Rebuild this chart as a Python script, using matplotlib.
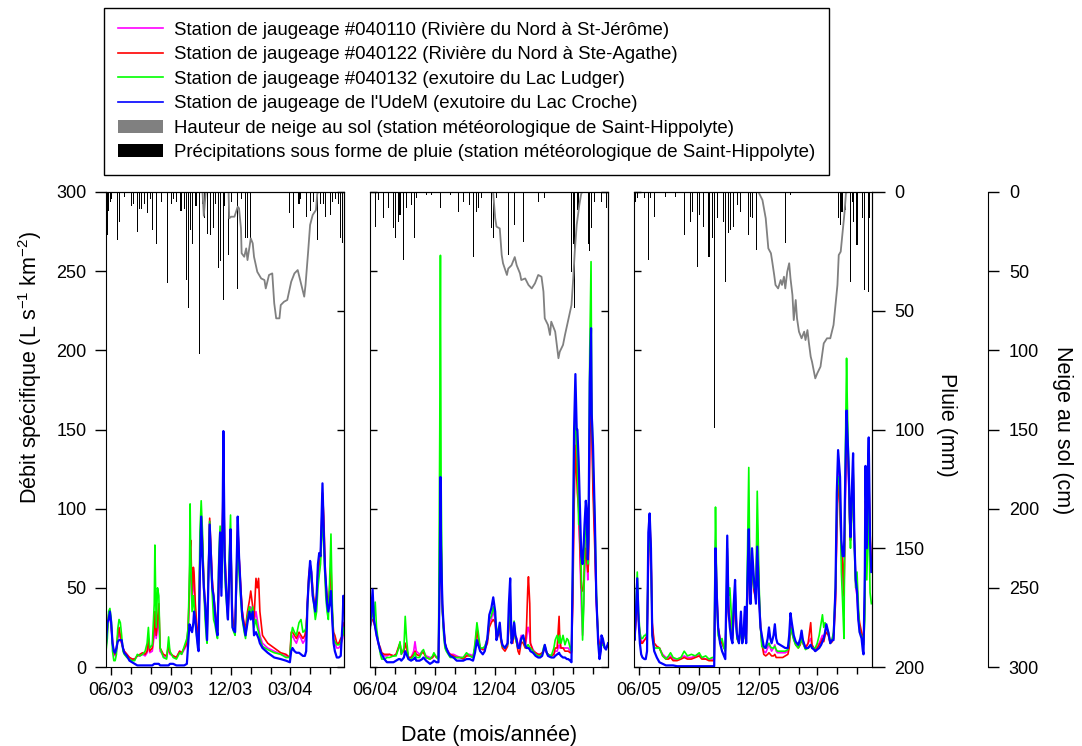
import pandas as pd
import matplotlib
matplotlib.use("Agg")
from matplotlib import pyplot as plt
import matplotlib.dates as mdates
from matplotlib.lines import Line2D
from matplotlib.patches import Patch

plt.rcParams['font.family'] = ['Liberation Sans', 'DejaVu Sans']
plt.rcParams['mathtext.default'] = 'regular'

#start of each hydrological year (day 0 = 1st of June)
bases = ["2003-06-01", "2004-06-01", "2005-06-01"]

#discharge, panel 1 (L/s/km2)
p1_day = [-8,-6,-4,-2,0,2,4,6,8,10,
          12,14,16,18,20,24,28,32,36,40,
          44,48,52,55,57,59,63,66,67,69,
          71,73,75,80,85,88,90,95,100,105,
          108,112,116,118,120,121,122,124,126,127,
          129,131,133,134,136,138,140,142,144,146,
          147,149,151,153,155,157,159,161,163,165,
          167,169,171,172,174,176,178,179,181,183,
          185,186,188,190,192,194,196,199,201,204,
          206,209,212,214,217,219,222,224,226,228,
          232,240,250,260,268,274,276,278,281,284,
          288,291,294,297,299,301,303,305,307,309,
          311,313,315,317,319,321,323,324,326,328,
          329,331,333,335,337,339,341,343,346,349,
          352,355,356,357]
p1_magenta = [12,22,30,32,25,15,8,7,10,18,
              22,18,15,12,10,8,6,5,5,7,
              7,8,7,9,15,9,10,20,28,18,
              25,30,10,7,6,12,8,7,6,10,
              8,11,14,22,45,80,70,45,55,50,
              35,25,18,15,60,95,75,50,35,25,
              20,55,92,70,50,40,35,25,20,50,
              80,55,90,130,70,50,40,32,50,85,
              45,30,25,23,50,90,70,45,35,25,
              22,30,35,38,35,28,35,30,25,20,
              15,12,10,8,7,6,18,20,17,15,
              20,18,15,17,22,40,55,62,55,45,
              40,35,40,55,60,70,90,105,80,60,
              50,40,38,45,60,30,18,15,12,12,
              14,18,22,22]
p1_red = [14,25,33,35,27,16,9,8,12,20,
          25,20,15,12,10,8,6,5,5,7,
          8,9,8,10,18,10,12,25,35,20,
          30,40,12,8,7,14,9,7,6,10,
          9,12,15,25,50,75,80,45,63,60,
          40,28,20,17,70,95,80,55,40,28,
          22,60,94,75,55,45,38,30,23,55,
          82,60,100,127,75,55,42,35,55,85,
          50,32,26,25,55,90,70,48,35,27,
          25,35,42,48,38,30,56,50,56,35,
          20,15,12,9,8,6,22,22,20,18,
          22,20,18,20,25,42,58,65,60,50,
          42,38,45,60,65,70,95,110,95,65,
          55,45,40,50,65,35,22,20,15,15,
          18,20,25,28]
p1_green = [10,18,35,37,30,10,4,4,8,24,
            30,28,20,10,8,6,5,4,4,8,
            7,8,10,15,25,12,14,40,77,25,
            50,45,12,6,5,19,10,6,5,9,
            8,13,18,25,60,103,70,35,45,40,
            28,20,13,12,85,105,85,50,30,18,
            15,60,92,65,45,30,27,22,18,70,
            89,50,85,120,60,45,35,30,70,96,
            40,25,22,20,50,80,60,40,30,22,
            18,32,38,32,38,25,30,25,22,18,
            13,11,9,8,6,6,20,25,22,20,
            28,30,22,23,25,38,55,60,55,48,
            38,30,35,50,58,65,85,100,75,55,
            45,35,30,55,84,40,17,16,14,14,
            15,20,22,25]
p1_blue = [15,28,30,35,28,15,10,9,12,16,
           17,17,17,12,9,7,4,3,2,1,
           1,1,1,1,1,1,1,2,2,2,
           2,2,1,1,1,1,2,2,1,1,
           1,1,2,15,27,26,24,22,28,35,
           30,20,12,10,60,95,70,50,40,25,
           17,55,90,70,50,45,35,25,20,60,
           85,45,100,149,70,50,35,30,60,87,
           40,25,23,22,60,95,70,45,32,25,
           20,28,35,30,35,20,22,20,18,15,
           12,9,6,5,4,3,10,12,10,9,
           9,8,7,7,10,40,55,67,60,45,
           40,35,45,65,72,70,100,116,85,60,
           55,40,35,40,48,30,15,10,6,6,
           7,30,45,40]

#discharge, panel 2
p2_day = [-9,-8,-6,-4,-2,0,2,5,8,10,
          14,18,22,28,32,36,38,40,44,46,
          48,51,55,59,61,63,68,72,74,78,
          84,88,90,94,97,99,100,101,103,105,
          107,109,112,115,120,125,130,135,140,145,
          150,153,156,158,161,165,168,172,175,178,
          181,184,186,188,191,193,195,199,203,205,
          207,209,211,213,215,217,219,221,224,227,
          230,232,234,235,237,238,242,246,250,253,
          256,258,260,263,265,270,274,276,279,282,
          283,285,288,291,294,296,299,301,303,305,
          307,309,310,312,314,316,318,320,321,323,
          324,326,327,329,331,332,334,337,339,342,
          344,346,347,349,352,354,357]
p2_magenta = [20,25,28,30,30,25,20,14,10,8,
              7,7,8,7,8,12,15,8,10,15,
              12,6,6,10,16,10,8,10,10,7,
              6,6,8,6,6,70,115,80,40,25,
              15,12,10,8,8,7,6,6,8,8,
              7,12,25,18,12,11,12,18,28,30,
              35,30,20,22,25,18,14,12,15,30,
              45,20,22,28,20,18,12,15,20,18,
              14,18,25,25,20,15,11,9,8,8,
              9,10,12,9,8,7,8,10,10,14,
              12,12,12,12,12,12,10,10,50,120,
              150,130,130,100,70,40,20,45,60,80,
              75,55,70,150,190,160,120,80,40,20,
              14,14,15,15,12,12,14]
p2_red = [22,25,30,30,28,25,22,15,12,9,
          8,8,8,7,8,13,15,9,10,15,
          12,6,6,8,10,8,7,9,9,6,
          5,6,8,6,6,60,110,80,35,25,
          15,12,9,8,7,6,6,5,7,7,
          6,12,24,18,12,11,11,15,25,28,
          30,28,18,20,22,16,12,10,13,25,
          40,18,15,25,18,15,10,8,16,15,
          12,25,50,57,40,15,10,9,8,8,
          9,10,12,9,8,7,8,12,12,32,
          18,12,12,10,10,10,9,9,40,100,
          140,120,110,100,75,50,48,55,65,75,
          70,60,65,140,180,150,110,70,45,18,
          14,15,16,15,12,12,14]
p2_green = [22,25,30,35,30,41,25,15,8,5,
            5,6,6,7,7,12,16,8,12,32,
            18,5,5,7,9,6,6,10,11,6,
            5,7,9,6,5,150,260,120,35,20,
            12,10,8,6,6,6,6,6,9,7,
            6,15,28,22,12,12,13,18,30,32,
            38,32,25,22,24,18,13,12,14,28,
            42,18,20,29,18,15,12,12,18,18,
            13,12,14,14,12,12,10,8,7,7,
            8,12,14,9,8,7,12,17,20,15,
            20,15,20,14,18,17,12,10,60,130,
            170,140,130,90,90,60,17,40,70,100,
            90,65,80,200,256,170,130,90,50,15,
            12,12,14,14,12,12,14]
p2_blue = [22,24,35,49,30,25,20,15,10,8,
           5,3,3,3,4,5,5,4,6,10,
           8,5,4,5,6,4,4,5,6,4,
           2,3,4,3,3,60,120,75,40,25,
           15,12,9,7,6,4,4,4,5,5,
           4,9,17,14,10,8,10,18,33,37,
           44,35,17,20,28,18,14,12,15,40,
           56,15,18,28,20,17,12,12,18,20,
           14,12,12,12,11,10,9,7,6,6,
           7,10,14,9,7,6,6,7,8,9,
           8,7,6,6,5,5,4,3,70,150,
           185,150,150,130,100,70,65,80,90,105,
           100,68,80,180,214,160,140,90,45,15,
           5,10,20,18,12,11,15]

#discharge, panel 3
p3_day = [-9,-7,-5,-3,-1,1,3,5,8,10,
          12,14,16,18,20,23,27,31,36,41,
          45,48,52,58,64,69,74,80,86,92,
          96,102,107,112,115,116,117,119,121,124,
          127,130,132,134,135,137,139,141,143,145,
          147,149,150,153,156,158,160,162,164,166,
          168,170,171,173,176,179,181,184,186,188,
          191,194,197,199,201,203,206,208,210,212,
          216,220,224,228,230,232,234,237,240,244,
          247,249,251,255,259,263,265,268,270,273,
          276,279,281,283,285,287,290,293,296,298,
          301,303,305,307,308,310,312,314,316,318,
          319,321,323,324,326,328,330,332,334,336,
          338,341,343,344,346,347,349,351,352,354,
          356]
p3_magenta = [20,18,30,45,30,20,15,16,17,18,
              20,60,90,70,25,15,13,12,8,6,
              6,7,5,5,6,7,6,6,7,8,
              6,5,5,5,5,40,80,50,25,18,
              15,12,12,40,75,40,30,25,20,35,
              50,30,20,16,30,17,20,35,18,50,
              80,60,45,70,50,45,90,45,28,18,
              10,9,12,15,12,10,12,14,10,9,
              9,9,9,10,15,28,25,18,15,13,
              15,20,17,12,15,18,13,12,11,14,
              15,18,20,18,22,25,22,16,18,20,
              45,90,125,110,100,70,60,40,100,150,
              140,120,90,80,100,125,80,50,45,30,
              25,20,15,15,40,100,70,110,120,80,
              60]
p3_red = [20,17,30,45,30,20,15,15,17,18,
          20,70,95,75,28,15,13,12,7,5,
          5,6,4,4,5,6,5,5,6,7,
          5,5,4,4,4,35,70,45,25,17,
          15,12,11,35,70,38,28,22,18,30,
          45,28,18,15,28,16,18,32,16,45,
          85,55,40,65,48,42,85,42,25,15,
          8,7,8,9,8,7,7,8,6,6,
          6,6,7,8,12,25,22,18,14,12,
          14,18,15,12,15,28,14,12,10,12,
          14,16,18,16,20,22,20,15,16,18,
          40,85,115,110,100,75,65,45,110,155,
          145,125,90,80,100,125,80,55,50,35,
          28,22,18,17,45,105,75,115,125,85,
          65]
p3_green = [20,18,40,60,35,22,18,18,20,20,
            22,70,90,70,20,12,12,12,7,5,
            7,9,6,5,6,10,7,8,7,9,
            6,7,5,6,6,60,101,45,20,16,
            18,12,10,45,75,45,50,35,20,40,
            48,25,18,15,25,15,18,30,15,70,
            126,50,40,65,50,50,111,50,25,13,
            12,12,14,15,13,12,12,13,11,10,
            10,10,10,11,15,25,22,17,14,12,
            15,18,15,11,12,14,12,12,12,15,
            20,28,33,25,28,25,22,15,18,22,
            50,100,120,120,110,60,40,18,130,195,
            170,130,85,75,95,130,75,50,60,40,
            22,20,15,14,30,80,55,90,100,47,
            40]
p3_blue = [25,17,35,56,30,15,8,6,5,5,
           10,85,97,75,20,10,6,3,2,1,
           1,1,1,0.5,0.5,0.5,0.5,0.5,0.5,0.5,
           0.5,0.5,0.5,0.5,0.5,40,75,45,25,15,
           10,7,5,60,83,35,25,18,15,40,
           55,25,20,15,35,15,20,38,15,55,
           87,40,40,75,55,40,76,40,25,20,
           13,12,18,25,18,15,20,27,18,15,
           14,13,12,12,20,34,28,20,16,14,
           18,23,17,12,12,14,12,11,10,11,
           12,14,16,18,22,27,22,15,17,17,
           50,110,137,125,120,80,70,70,120,162,
           150,130,95,82,110,135,80,55,48,30,
           22,18,10,8,60,127,75,130,145,80,
           60]

#rain (mm), Saint-Hippolyte
p1_rain_day = [-6,-4,-1,0,9,10,12,20,31,34,41,43,47,51,55,60,64,70,77,87,92,95,
               100,107,112,115,116,119,121,125,130,136,140,143,148,152,157,160,
               164,167,172,174,180,185,194,200,206,209,213,273,280,288,290,299,
               306,310,317,321,325,329,336,340,344,348,352,355]
p1_rain_mm = [18,8,4,3,14,20,12.5,2,6,5,17,7,7,5,9,3,16,22,4,38.5,5,3,
              4,8,7,37,21.6,49,16,22,6,68,5,11,17.6,18,15.3,5,
              32,29,45.5,6,26.5,4,41,3,19.5,19.5,19.5,9,15.3,5,3,10.4,
              8,4,20,5,5,10.4,9.7,4,3,5,19.5,21.6]
p2_rain_day = [-7,0,5,13,20,28,31,36,38,43,48,56,60,64,79,87,100,115,128,135,
               145,150,156,158,163,179,181,186,205,213,227,251,260,301,304,306,
               311,327,329,332,337,347,355]
p2_rain_mm = [10.4,14.6,3.4,11,6.9,15.3,19.5,12.5,9.7,28.6,6.9,5.5,19.5,2.7,1.3,1.3,6.9,1.3,8.3,4.1,
              5.5,27.2,8.3,6.9,2.7,15.3,19.5,2.7,26.5,14,21,4.1,2.7,33.5,22,49,
              7.6,22,25,15.3,4.1,4.1,6.9]
p3_rain_day = [-6,-3,8,14,18,23,41,56,70,78,81,89,92,99,107,113,116,120,129,133,
               137,140,145,151,156,167,171,174,180,224,232,286,305,309,311,316,
               324,327,329,334,342,346,351,353]
p3_rain_mm = [4,2.7,2.7,28.6,2.7,10.4,2,2,18,12.5,8.3,31.4,9.7,14.6,27.2,19.5,99.5,11,12.5,37.8,
              17.4,16,14.6,5.5,8.3,18,10.4,11,24.4,21.6,1.3,0.6,11,14,8.3,7.6,
              37.8,4.1,12.5,22.3,11,41.3,42,11]

#snow on ground (cm)
p1_snow_day = [140,142,145,180,181,184,189,194,196,199,200,204,207,209,214,217,219,224,230,235,
               237,242,247,250,253,258,260,265,270,276,281,286,291,296,298,302,305,309,314,316,318]
p1_snow_cm = [0,15,0,0,16.6,15.6,15.6,9.3,10.3,23,38.7,40.9,35.6,43,29.3,32.4,40.9,50.4,54.6,55.6,
              60.9,52.4,51.4,70.3,79.8,79.8,71.4,69.3,68.2,56.7,51.4,49.3,57.7,66.1,58.7,37.7,20.8,14.5,11.4,0.9,0]
p2_snow_day = [180,181,184,186,191,194,196,202,204,209,214,217,222,224,230,235,240,245,250,255,
               258,260,265,268,270,276,281,283,288,291,296,301,304,306,309,313,316,318]
p2_snow_cm = [0,0.8,16.6,21.9,23,39.8,45,52.4,48.4,46.3,41.1,46.3,51.4,55.6,54.6,58.7,60.9,57.7,52.4,53.5,
              62.9,79.8,84,90.3,81.9,88.2,105,100.9,96.6,90.3,80.9,71.4,52.4,37.7,20.8,8.2,0.9,0]
p3_snow_day = [183,184,189,194,198,202,204,207,209,213,217,219,222,224,227,230,232,235,237,240,
               242,245,249,253,255,258,260,263,265,268,270,273,278,283,288,293,298,304,306,309,
               312,315,317,319]
p3_snow_cm = [0,0.9,5.1,16.6,35.6,38.7,44,52.4,58.7,60.9,55.6,58.7,53.5,60.9,50.4,45,54.6,65.1,80.9,68.2,
              79.8,88.2,92.4,88.2,93.5,87.2,94.5,104,107.2,113.5,117.7,114.6,110.3,95.6,92.4,92.4,84,58.7,39.8,37.7,
              25,12.4,0.9,0]

labels = ["Station de jaugeage #040110 (Rivière du Nord à St-Jérôme)",
          "Station de jaugeage #040122 (Rivière du Nord à Ste-Agathe)",
          "Station de jaugeage #040132 (exutoire du Lac Ludger)",
          "Station de jaugeage de l'UdeM (exutoire du Lac Croche)",
          "Hauteur de neige au sol (station météorologique de Saint-Hippolyte)",
          "Précipitations sous forme de pluie (station météorologique de Saint-Hippolyte)"]
colors = ['#ff00ff', '#ff0000', '#00ff00', '#0000ff']

panels = [
    (p1_day, [p1_magenta, p1_red, p1_green, p1_blue], p1_rain_day, p1_rain_mm, p1_snow_day, p1_snow_cm),
    (p2_day, [p2_magenta, p2_red, p2_green, p2_blue], p2_rain_day, p2_rain_mm, p2_snow_day, p2_snow_cm),
    (p3_day, [p3_magenta, p3_red, p3_green, p3_blue], p3_rain_day, p3_rain_mm, p3_snow_day, p3_snow_cm),
]


def to_dates(base, days):
    return pd.Timestamp(base) + pd.to_timedelta(days, unit='D')


W, H = 1082, 746
fig = plt.figure(figsize=(W / 100, H / 100), dpi=100)
lefts = [106, 370, 634]
pw, ph, pb = 238, 475, 79

for i, (days, series, rday, rmm, sday, scm) in enumerate(panels):
    base = bases[i]
    ax = fig.add_axes([lefts[i] / W, pb / H, pw / W, ph / H])
    x = to_dates(base, days)
    for vals, c in zip(series, colors):
        ax.plot(x, vals, color=c, lw=1.6 if c == '#0000ff' else 1.2)
    ax.set_ylim(0, 300)
    ax.set_yticks(range(0, 301, 50))
    ax.set_xlim(to_dates(base, -8), to_dates(base, 357))
    ax.xaxis.set_major_locator(mdates.MonthLocator(bymonth=[3, 6, 9, 12]))
    ax.xaxis.set_minor_locator(mdates.MonthLocator())
    ax.xaxis.set_major_formatter(mdates.DateFormatter('%m/%y'))
    ax.tick_params(axis='x', which='major', direction='out', length=6, width=1, labelsize=13, pad=5)
    ax.tick_params(axis='x', which='minor', direction='out', length=5, width=1)
    if i == 0:
        ax.tick_params(axis='y', direction='out', length=8, width=1, labelsize=13, pad=6)
    else:
        ax.tick_params(axis='y', direction='in', length=5, width=1, labelleft=False)

    # rain hanging from the top
    axr = ax.twinx()
    axr.bar(to_dates(base, rday), rmm, width=1.6, color='black', linewidth=0)
    axr.set_ylim(200, 0)
    axr.set_yticks(range(0, 201, 50))
    for s in ['top', 'bottom', 'left']:
        axr.spines[s].set_visible(False)
    if i == 2:
        axr.tick_params(axis='y', direction='out', length=9, width=1, labelsize=13, pad=7)
    else:
        axr.tick_params(axis='y', direction='in', length=5, width=1, labelright=False)

    # snow on ground
    axs = ax.twinx()
    axs.plot(to_dates(base, sday), scm, color='#808080', lw=1.3)
    axs.set_ylim(300, 0)
    for s in ['bottom', 'left']:
        axs.spines[s].set_visible(False)
    if i == 2:
        axs.spines['right'].set_position(('axes', 354 / pw))
        axs.set_yticks(range(0, 301, 50))
        axs.tick_params(axis='y', direction='out', length=8, width=1, labelsize=13, pad=7)
    else:
        axs.spines['right'].set_visible(False)
        axs.set_yticks([])

fig.text(30 / W, 1 - 367 / H, 'Débit spécifique (L s$^{-1}$ km$^{-2}$)', rotation=90,
         ha='center', va='center', fontsize=15.5)
fig.text(947 / W, 1 - 425 / H, 'Pluie (mm)', rotation=270, ha='center', va='center', fontsize=15.5)
fig.text(1063 / W, 1 - 430 / H, 'Neige au sol (cm)', rotation=270, ha='center', va='center', fontsize=15.5)
fig.text(489 / W, 1 - 735 / H, 'Date (mois/année)', ha='center', va='center', fontsize=15.5)

handles = [Line2D([], [], color=c, lw=1.2) for c in colors]
handles += [Patch(facecolor='#808080', edgecolor='none'), Patch(facecolor='black', edgecolor='none')]
leg = fig.legend(handles, labels, loc='upper left', bbox_to_anchor=(104 / W, 1 - 8 / H),
                 bbox_transform=fig.transFigure, fontsize=13.4, frameon=True, fancybox=False,
                 edgecolor='black', framealpha=1, borderpad=0.75, labelspacing=0.4,
                 handlelength=2.4, handletextpad=0.6, borderaxespad=0)
leg.get_frame().set_linewidth(1.0)

plt.savefig('out.png', dpi=100)
